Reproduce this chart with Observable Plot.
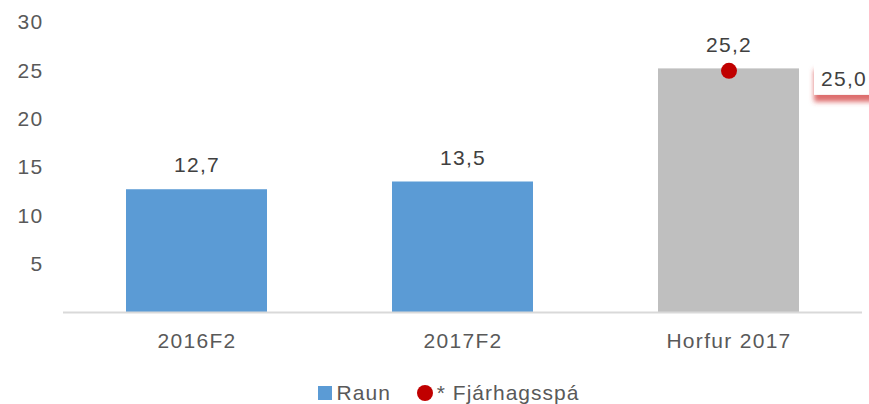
<!DOCTYPE html>
<html>
<head>
<meta charset="utf-8">
<script src="https://cdn.jsdelivr.net/npm/d3@7"></script>
<script src="https://cdn.jsdelivr.net/npm/@observablehq/plot@0.6"></script>
<style>
  body { margin: 0; background: #fff; font-family: "Liberation Sans", Arial, sans-serif; }
  #chart svg { display: block; }
  .legend { display: flex; justify-content: center; align-items: center; gap: 0; padding-left: 28px; margin-top: 11px; font-size: 21px; letter-spacing: 1px; color: #595959; height: 24px; }
  .legend .sw { display: inline-block; width: 14px; height: 14px; background: #5B9BD5; margin-right: 5px; }
  .legend .dot { display: inline-block; width: 16px; height: 16px; border-radius: 50%; background: #C00000; margin-right: 4px; margin-left: 26px; }
</style>
</head>
<body>
<div id="chart"></div>
<div class="legend"><span class="sw"></span><span>Raun</span><span class="dot"></span><span>* Fjárhagsspá</span></div>
<script>
const categories = ["2016F2", "2017F2", "Horfur 2017"];
const values = [12.7, 13.5, 25.2];
const kinds = ["Raun", "Raun", "Horfur"];
const forecastCategories = ["Horfur 2017"];
const forecastValues = [25.0];
const yTicks = [5, 10, 15, 20, 25, 30];

const bars = categories.map((c, i) => ({category: c, value: values[i], kind: kinds[i]}));
const forecast = forecastCategories.map((c, i) => ({category: c, value: forecastValues[i]}));
const fmt = d => d.toFixed(1).replace(".", ",");

function boxed(index, scales, values, dimensions, context, next) {
  const g = next(index, scales, values, dimensions, context);
  const ns = "http://www.w3.org/2000/svg";
  const defs = document.createElementNS(ns, "defs");
  defs.innerHTML = '<filter id="redsh" x="-30%" y="-30%" width="160%" height="190%"><feDropShadow dx="0" dy="7" stdDeviation="2.5" flood-color="#d23c3c" flood-opacity="0.75"/></filter>';
  g.insertBefore(defs, g.firstChild);
  g.querySelectorAll("text").forEach(t => {
    const r = document.createElementNS(ns, "rect");
    const tr = t.getAttribute("transform");
    if (tr) r.setAttribute("transform", tr);
    if (t.getAttribute("x")) { r.setAttribute("x", +t.getAttribute("x") - 30); r.setAttribute("y", +t.getAttribute("y") - 16); }
    else { r.setAttribute("x", -30); r.setAttribute("y", -16); }
    r.setAttribute("width", 62);
    r.setAttribute("height", 32);
    r.setAttribute("fill", "white");
    r.setAttribute("filter", "url(#redsh)");
    t.parentNode.insertBefore(r, t);
  });
  return g;
}

const plot = Plot.plot({
  width: 869,
  height: 370,
  marginLeft: 63,
  marginRight: 7,
  marginTop: 22,
  marginBottom: 58,
  style: {fontFamily: "'Liberation Sans', Arial, sans-serif", fontSize: "21px", color: "#595959", background: "white", letterSpacing: "1.3px", overflow: "visible"},
  x: {domain: categories, paddingInner: 0.47, paddingOuter: 0.235, label: null, tickSize: 0, tickPadding: 21},
  y: {domain: [0, 30], ticks: yTicks, label: null, tickSize: 0, tickPadding: 20},
  color: {domain: ["Raun", "Horfur"], range: ["#5B9BD5", "#BFBFBF"]},
  marks: [
    Plot.barY(bars, {x: "category", y: "value", fill: "kind"}),
    Plot.ruleY([0], {stroke: "#D9D9D9", strokeWidth: 2}),
    Plot.text(bars, {x: "category", y: "value", text: d => fmt(d.value), dy: -24, lineAnchor: "middle", fill: "#404040", fontSize: 21}),
    Plot.dot(forecast, {x: "category", y: "value", r: 8, fill: "#C00000", stroke: null}),
    Plot.text(forecast, {x: "category", y: "value", text: d => fmt(d.value), dx: 115, dy: 8, lineAnchor: "middle", fill: "#404040", fontSize: 21, render: boxed})
  ]
});
document.getElementById("chart").appendChild(plot);
</script>
</body>
</html>
